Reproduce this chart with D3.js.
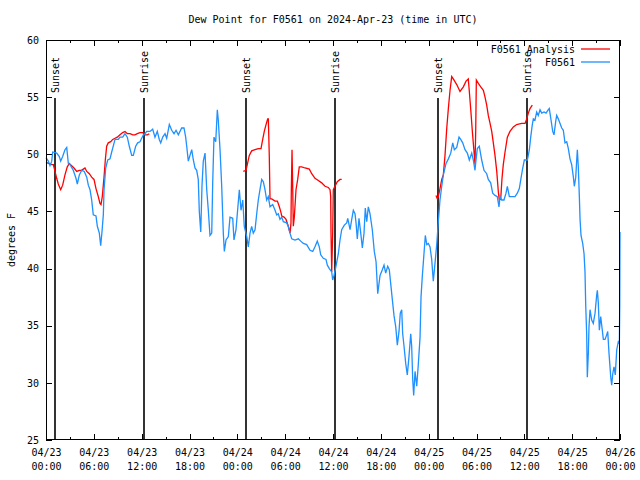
<!DOCTYPE html>
<html>
<head>
<meta charset="utf-8">
<script src="https://cdn.jsdelivr.net/npm/d3@7"></script>
<style>
  html, body { margin: 0; padding: 0; background: #fff; }
  svg { display: block; }
  text { font-family: "DejaVu Sans Mono", monospace; font-size: 10px; fill: #000; }
</style>
</head>
<body>
<svg id="chart" width="640" height="480"></svg>
<script>
// ---------------- DATA ----------------
const chartTitle = "Dew Point for F0561 on 2024-Apr-23 (time in UTC)";
const yAxisLabel = "degrees F";
const startTime = "2024-04-23T00:00:00Z";
const spanHours = 72;
const seriesNames = ["F0561 Analysis", "F0561"];
const seriesColors = ["#ff0000", "#1e90ff"];
const yTicks = [25, 30, 35, 40, 45, 50, 55, 60];

// Observed dew point (hours since start, degrees F)
const obsHours = [0.00,0.29,0.50,0.72,0.84,1.34,1.67,1.84,2.09,2.38,2.60,2.80,3.01,3.42,3.76,3.93,4.18,4.48,4.80,5.11,5.31,5.52,5.73,5.93,6.27,6.44,6.69,6.86,7.02,7.19,7.28,7.49,7.74,8.03,8.24,8.66,9.07,9.28,9.62,9.91,10.20,10.45,10.75,10.95,11.25,11.50,11.79,12.00,12.21,12.42,12.63,13.05,13.38,13.67,13.96,14.21,14.39,14.64,14.93,15.14,15.47,15.77,16.06,16.31,16.60,17.02,17.31,17.52,17.65,17.85,18.06,18.28,18.48,18.69,18.90,19.10,19.23,19.41,19.57,19.73,19.95,20.16,20.36,20.57,20.79,20.91,21.07,21.29,21.49,21.61,21.83,22.04,22.24,22.37,22.58,22.87,23.08,23.42,23.58,23.83,24.25,24.46,24.68,24.87,25.18,25.38,25.59,25.80,26.00,26.22,26.43,26.63,26.84,27.06,27.26,27.47,27.68,27.88,28.10,28.44,28.73,28.94,29.14,29.35,29.57,29.77,30.19,30.39,30.61,30.82,31.23,31.65,31.95,32.28,32.70,33.12,33.46,33.74,34.03,34.28,34.46,34.78,35.12,35.29,35.54,35.84,35.96,36.13,36.29,36.67,36.88,37.09,37.42,37.72,37.85,38.14,38.35,38.55,38.76,38.89,39.05,39.26,39.48,39.68,39.89,40.05,40.23,40.43,40.64,40.93,41.18,41.40,41.61,41.90,42.19,42.40,42.61,42.86,43.06,43.28,43.44,43.65,43.87,44.07,44.28,44.44,44.62,44.74,44.91,45.12,45.32,45.53,45.75,45.87,46.00,46.12,46.29,46.50,46.70,46.92,47.04,47.20,47.38,47.58,47.76,47.96,48.17,48.38,48.58,48.80,49.01,49.21,49.42,49.64,49.84,50.18,50.47,50.77,51.02,51.22,51.52,51.81,52.02,52.27,52.56,52.85,53.10,53.40,53.60,53.81,53.94,54.10,54.35,54.65,54.94,55.28,55.48,55.78,56.03,56.32,56.61,56.82,56.95,57.16,57.45,57.70,57.87,58.12,58.42,58.83,59.12,59.37,59.58,59.80,60.00,60.38,60.63,60.80,61.00,61.13,61.34,61.55,61.75,61.97,62.18,62.47,62.72,63.01,63.13,63.35,63.56,63.72,63.94,64.06,64.26,64.48,64.69,64.89,65.10,65.32,65.52,65.73,65.94,66.15,66.27,66.45,66.57,66.65,66.77,66.90,66.99,67.11,67.32,67.49,67.61,67.70,67.82,67.90,68.03,68.11,68.24,68.45,68.65,68.87,69.08,69.16,69.28,69.41,69.58,69.78,69.91,70.12,70.33,70.46,70.62,70.84,70.96,71.09,71.25,71.41,71.59,71.79,71.92,71.97,72.00];
const obsValues = [49.7,49.4,49.0,49.4,50.2,50.1,49.8,49.4,49.8,50.4,50.6,49.2,49.1,48.6,47.9,47.4,48.2,48.6,48.5,48.0,47.3,46.9,46.0,44.7,44.6,43.7,43.1,42.0,43.2,44.7,46.9,48.8,49.5,49.6,50.2,51.3,51.3,51.5,51.5,51.8,51.5,50.7,49.9,49.9,50.7,51.0,51.1,51.4,51.7,51.8,52.0,52.0,52.2,51.5,52.0,51.3,51.0,51.5,51.8,51.4,52.6,52.1,51.8,52.1,51.7,52.3,52.3,51.5,50.7,49.4,49.9,50.4,49.5,48.8,48.6,47.8,45.0,43.2,47.3,49.4,50.1,46.9,45.1,42.9,43.1,47.5,51.5,51.1,53.9,53.0,50.4,47.2,43.1,41.5,42.5,42.8,44.5,44.4,42.5,43.4,46.9,45.1,46.0,43.7,42.8,41.9,43.1,43.7,43.1,43.4,44.8,46.0,46.9,47.8,47.6,46.9,46.0,46.3,45.4,45.6,45.1,44.7,44.8,44.3,44.5,44.1,44.0,43.7,43.1,42.6,42.5,42.6,42.4,42.2,42.1,41.6,41.5,41.9,42.4,41.9,41.2,40.9,40.8,40.3,40.0,39.7,39.0,39.4,39.9,41.3,42.5,43.4,43.8,44.0,44.4,43.4,44.3,45.1,44.8,44.0,42.6,44.4,43.1,41.8,43.1,45.3,44.1,45.4,44.8,43.4,41.5,40.6,37.8,39.4,39.9,40.3,39.6,40.2,39.9,38.4,37.3,35.9,34.9,33.3,34.5,36.1,36.4,34.3,33.2,31.7,30.7,32.3,34.3,33.2,30.3,28.9,31.0,29.7,31.6,34.0,37.5,39.3,41.0,42.9,42.1,42.2,41.9,40.8,38.9,40.5,42.1,44.1,46.0,47.2,48.2,49.2,49.6,50.1,51.0,50.4,50.6,51.5,51.3,51.0,50.4,50.1,49.5,50.1,49.5,48.6,49.5,50.5,50.7,49.5,48.6,48.3,47.8,47.5,46.6,46.4,46.3,45.4,46.3,46.0,46.0,46.6,47.2,46.3,46.3,46.3,46.6,47.0,47.9,48.8,49.5,49.5,50.4,51.5,52.6,53.1,53.0,53.7,53.4,53.9,53.6,53.7,53.6,53.9,54.0,53.0,52.0,51.7,52.9,53.4,53.1,52.7,52.3,52.1,51.0,51.1,50.5,49.6,49.1,48.0,47.2,48.0,49.5,50.4,48.9,46.3,44.3,42.9,42.2,41.3,39.7,36.8,34.3,30.5,32.6,34.9,36.4,35.5,35.2,36.1,37.7,38.1,37.0,34.6,35.8,34.6,33.8,33.8,34.2,34.5,32.6,30.5,29.8,30.8,31.4,30.7,32.9,33.6,33.5,36.8,43.2];

// Analysis dew point (null = gap between analysis runs)
const anaHours = [0.00,0.72,0.92,1.13,1.34,1.54,1.84,2.09,2.38,2.67,2.92,3.22,3.51,3.85,4.18,4.48,4.68,4.89,5.11,5.43,5.73,6.02,6.27,6.56,6.77,6.90,7.06,7.28,7.44,7.61,7.81,8.12,8.37,8.66,8.94,9.28,9.62,9.91,10.20,10.54,10.88,11.16,11.45,11.79,12.13,12.42,12.71,12.96,
  null,
  24.75,25.09,25.25,25.50,25.80,26.22,26.63,26.97,27.13,27.38,27.60,27.81,27.89,28.01,28.10,28.31,28.73,29.02,29.23,29.44,29.57,29.86,30.11,30.39,30.61,30.73,30.77,30.86,30.95,31.02,31.15,31.36,31.57,31.77,32.08,32.49,33.03,33.33,33.74,34.16,34.58,35.00,35.41,35.63,35.71,35.75,35.84,35.96,36.04,36.25,36.54,36.88,37.09,
  null,
  48.92,49.09,49.21,49.42,49.64,49.84,50.05,50.27,50.47,50.68,50.89,51.09,51.52,51.93,52.35,52.69,52.97,53.10,53.28,53.48,53.69,53.81,53.90,53.98,54.23,54.53,54.86,55.07,55.28,55.48,55.70,55.91,56.11,56.32,56.54,56.74,56.86,57.04,57.20,57.36,57.58,57.87,58.20,58.62,59.04,59.67,60.09,60.30,60.50,60.71,61.00];
const anaValues = [49.3,49.1,49.1,48.5,47.9,47.4,46.9,47.3,48.2,48.9,49.2,49.0,48.8,48.5,48.6,48.6,48.7,48.8,48.5,48.3,48.0,47.8,47.0,46.3,45.7,45.6,46.3,48.0,49.5,50.7,51.0,51.1,51.3,51.4,51.5,51.7,51.9,52.0,51.8,51.8,51.7,51.7,51.8,51.9,51.9,51.7,51.7,51.8,
  null,
  48.5,48.6,49.1,49.9,50.3,50.4,50.5,50.5,51.1,52.0,52.6,53.1,53.1,49.8,46.1,46.1,45.9,45.9,45.5,45.0,44.6,44.5,44.3,43.7,43.1,44.0,46.7,50.4,46.9,43.7,44.5,46.9,47.8,48.9,48.9,48.8,48.7,48.3,47.9,47.7,47.5,47.2,47.1,46.9,46.3,43.1,39.7,43.1,46.9,47.2,47.6,47.8,47.8,
  null,
  46.4,46.1,46.3,47.0,47.8,48.2,49.9,52.3,54.0,55.6,56.8,56.6,56.1,55.5,55.9,56.4,56.6,55.5,53.9,52.0,50.2,49.1,52.0,56.5,56.2,55.9,55.6,55.0,54.3,53.4,52.7,52.0,51.0,49.9,48.5,46.7,46.0,46.1,47.9,49.1,50.2,51.5,52.0,52.4,52.6,52.7,52.7,53.1,53.6,54.0,54.3];

// Sunset / sunrise markers (hours since start)
const eventLabels = ["Sunset", "Sunrise", "Sunset", "Sunrise", "Sunset", "Sunrise"];
const eventHours = [1.17, 12.33, 25.13, 36.25, 49.21, 60.38];

// ---------------- CHART ----------------
const svg = d3.select("#chart");
const M = { left: 46, right: 620, top: 40, bottom: 440 };
const t0 = new Date(startTime);
const toDate = h => new Date(t0.getTime() + h * 3600000);

const x = d3.scaleUtc().domain([t0, toDate(spanHours)]).range([M.left, M.right]);
const y = d3.scaleLinear().domain([25, 60]).range([M.bottom, M.top]);

// title
svg.append("text").attr("x", (M.left + M.right) / 2).attr("y", 23)
  .attr("text-anchor", "middle").text(chartTitle);

// y label
svg.append("text").attr("transform", `translate(15,${(M.top + M.bottom) / 2}) rotate(-90)`)
  .attr("text-anchor", "middle").text(yAxisLabel);

// ticks
const majorTicks = x.ticks(d3.utcHour.every(6));
const minorTicks = x.ticks(d3.utcHour.every(3)).filter(d => d.getUTCHours() % 6 !== 0);

const axB = d3.axisBottom(x).tickValues(majorTicks).tickSizeInner(-6).tickSizeOuter(0).tickPadding(9).tickFormat(d3.utcFormat("%m/%d"));
const gB = svg.append("g").attr("transform", `translate(0,${M.bottom})`).call(axB);
gB.select(".domain").remove();
gB.selectAll(".tick text").each(function(d) {
  const t = d3.select(this);
  t.text(null).attr("dy", null).attr("y", null);
  t.append("tspan").attr("x", 0).attr("y", 16).text(d3.utcFormat("%m/%d")(d));
  t.append("tspan").attr("x", 0).attr("y", 30).text(d3.utcFormat("%H:%M")(d));
});
svg.append("g").attr("transform", `translate(0,${M.bottom})`)
  .call(d3.axisBottom(x).tickValues(minorTicks).tickSizeInner(-3).tickSizeOuter(0).tickFormat(""))
  .select(".domain").remove();
// top mirror
svg.append("g").attr("transform", `translate(0,${M.top})`)
  .call(d3.axisTop(x).tickValues(majorTicks).tickSizeInner(-6).tickSizeOuter(0).tickFormat(""))
  .select(".domain").remove();
svg.append("g").attr("transform", `translate(0,${M.top})`)
  .call(d3.axisTop(x).tickValues(minorTicks).tickSizeInner(-3).tickSizeOuter(0).tickFormat(""))
  .select(".domain").remove();

const axL = d3.axisLeft(y).tickValues(yTicks).tickSizeInner(-6).tickSizeOuter(0).tickPadding(7);
const gL = svg.append("g").attr("transform", `translate(${M.left},0)`).call(axL);
gL.select(".domain").remove();
svg.append("g").attr("transform", `translate(${M.right},0)`)
  .call(d3.axisRight(y).tickValues(yTicks).tickSizeInner(-6).tickSizeOuter(0).tickFormat(""))
  .select(".domain").remove();

svg.selectAll(".tick line").attr("stroke", "#000").attr("shape-rendering", "crispEdges");
svg.selectAll(".tick text").style("font-family", "DejaVu Sans Mono, monospace").style("font-size", "10px").attr("fill", "#000");

// event lines
const ev = svg.append("g");
eventHours.forEach((h, i) => {
  const xx = Math.round(x(toDate(h)));
  ev.append("line").attr("x1", xx).attr("x2", xx).attr("y1", 98).attr("y2", M.bottom)
    .attr("stroke", "#000").attr("stroke-width", 1.6);
  ev.append("text").attr("transform", `translate(${xx},93) rotate(-90)`)
    .attr("dy", "0.35em").attr("text-anchor", "start").text(eventLabels[i]);
});

// series
svg.append("clipPath").attr("id", "clip").append("rect")
  .attr("x", M.left - 1).attr("y", M.top).attr("width", M.right - M.left + 2).attr("height", M.bottom - M.top);

const lineGen = d3.line()
  .defined(d => d.h !== null && d.v !== null)
  .x(d => x(toDate(d.h))).y(d => y(d.v));

const anaData = anaHours.map((h, i) => ({ h, v: anaValues[i] }));
const obsData = obsHours.map((h, i) => ({ h, v: obsValues[i] }));

svg.append("path").datum(anaData).attr("clip-path", "url(#clip)")
  .attr("fill", "none").attr("stroke", seriesColors[0]).attr("stroke-width", 1.3).attr("d", lineGen);
svg.append("path").datum(obsData).attr("clip-path", "url(#clip)")
  .attr("fill", "none").attr("stroke", seriesColors[1]).attr("stroke-width", 1.3).attr("d", lineGen);

// border
svg.append("rect").attr("x", M.left + 0.5).attr("y", M.top + 0.5)
  .attr("width", M.right - M.left - 1).attr("height", M.bottom - M.top - 1)
  .attr("fill", "none").attr("stroke", "#000").attr("stroke-width", 1);

// legend
const leg = svg.append("g");
seriesNames.forEach((name, i) => {
  const ly = 49 + i * 13;
  leg.append("text").attr("x", 575).attr("y", ly).attr("dy", "0.35em").attr("text-anchor", "end").text(name);
  leg.append("line").attr("x1", 581).attr("x2", 610).attr("y1", ly).attr("y2", ly)
    .attr("stroke", seriesColors[i]).attr("stroke-width", 1.3);
});
</script>
</body>
</html>
